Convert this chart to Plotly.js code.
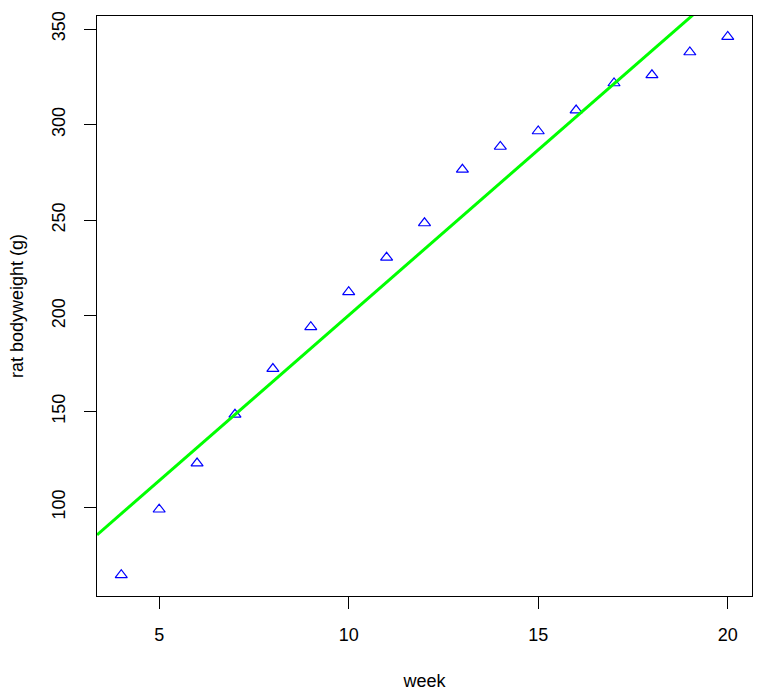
<!DOCTYPE html>
<html>
<head>
<meta charset="utf-8">
<script src="https://cdn.plot.ly/plotly-3.0.1.min.js"></script>
<style>
  html, body { margin: 0; padding: 0; background: #fff; }
  #chart { width: 762px; height: 697px; }
</style>
</head>
<body>
<div id="chart"></div>
<script>
// Data
var week = [4, 5, 6, 7, 8, 9, 10, 11, 12, 13, 14, 15, 16, 17, 18, 19, 20];
var bodyweight = [64.5, 98.8, 122.9, 148.4, 172.3, 194.2, 212.5, 230.5, 248.5, 276.5, 288.5, 296.6, 307.5, 321.7, 325.9, 337.9, 346.0];
var xTicks = [5, 10, 15, 20];
var yTicks = [100, 150, 200, 250, 300, 350];
var xRange = [3.36, 20.64];
var yRange = [53.5, 356.8];

// least-squares fit (abline(lm(bodyweight ~ week)))
function fit(x, y) {
  var n = x.length, mx = 0, my = 0;
  for (var i = 0; i < n; i++) { mx += x[i]; my += y[i]; }
  mx /= n; my /= n;
  var sxy = 0, sxx = 0;
  for (var j = 0; j < n; j++) { sxy += (x[j] - mx) * (y[j] - my); sxx += (x[j] - mx) * (x[j] - mx); }
  var b = sxy / sxx;
  return { a: my - b * mx, b: b };
}
var coef = fit(week, bodyweight);
var lineX = [xRange[0], xRange[1]];
var lineY = lineX.map(function (v) { return coef.a + coef.b * v; });

var font = { family: 'Liberation Sans, Arial, sans-serif', size: 18, color: '#000' };

var traces = [
  {
    x: week, y: bodyweight, type: 'scatter', mode: 'markers',
    marker: { symbol: 'triangle-up-open', size: 10.5, color: '#0000FF', line: { width: 1.2, color: '#0000FF' } },
    hoverinfo: 'x+y'
  },
  {
    x: lineX, y: lineY, type: 'scatter', mode: 'lines',
    line: { color: '#00FF00', width: 3 },
    hoverinfo: 'skip'
  }
];

var layout = {
  width: 762, height: 697,
  margin: { l: 97, r: 10, t: 16, b: 101, pad: 0 },
  paper_bgcolor: '#fff', plot_bgcolor: '#fff',
  showlegend: false,
  font: font,
  xaxis: {
    range: xRange, tickvals: xTicks, ticktext: xTicks.map(String),
    showgrid: false, zeroline: false,
    showline: true, mirror: true, linecolor: '#000', linewidth: 1,
    ticks: 'outside', ticklen: 12, tickwidth: 1, tickcolor: '#000',
    tickfont: font, ticklabelstandoff: 10,
    title: { text: 'week', font: font, standoff: 30 }
  },
  yaxis: {
    range: yRange, tickvals: yTicks, ticktext: yTicks.map(String),
    showgrid: false, zeroline: false,
    showline: true, mirror: true, linecolor: '#000', linewidth: 1,
    ticks: 'outside', ticklen: 12, tickwidth: 1, tickcolor: '#000',
    tickfont: font, tickangle: -90, ticklabelstandoff: 12,
    title: { text: 'rat bodyweight (g)', font: font, standoff: 20 }
  }
};

Plotly.newPlot('chart', traces, layout, { displayModeBar: false, staticPlot: true });
</script>
</body>
</html>
